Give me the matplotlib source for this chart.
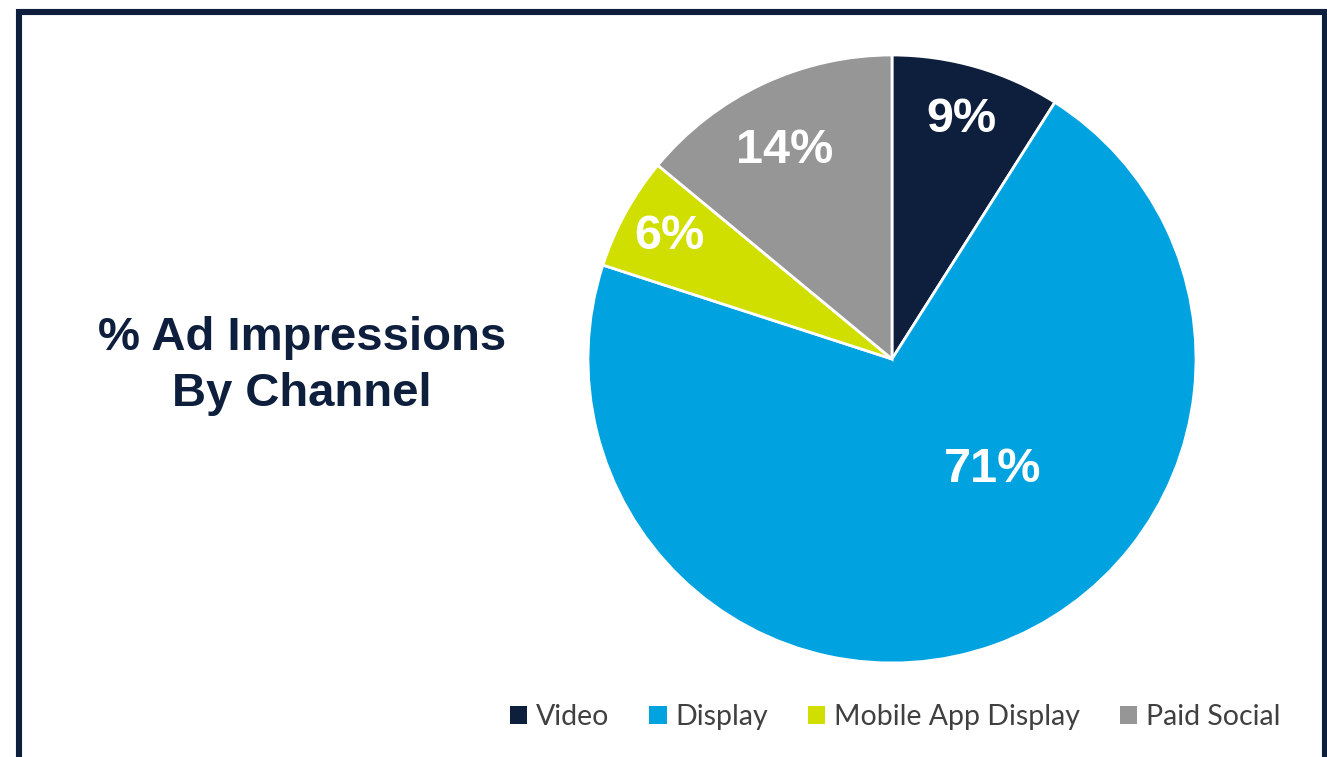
import numpy as np
import matplotlib.pyplot as plt
from matplotlib.patches import Patch, Rectangle

channels = ["Video", "Display", "Mobile App Display", "Paid Social"]
shares = [9, 71, 6, 14]
colors = ["#0e1f3d", "#00a3e0", "#d0de00", "#969696"]

# where each percentage sits: fraction of radius, and a turn away from the wedge middle (deg)
label_r = [0.82, 0.49, 0.835, 0.77]
label_turn = [0, 22.5, 0, 2.0]

NAVY = "#0e1f3d"
W, H = 1327, 757

fig = plt.figure(figsize=(W / 100, H / 100), dpi=100)
fig.patch.set_facecolor("white")

# outer frame, bottom edge runs off the page
fig.patches.append(Rectangle((19 / W, -2 / H), (1324.5 - 19) / W, (745 + 2) / H,
                             transform=fig.transFigure, fill=False,
                             edgecolor=NAVY, linewidth=4.4, zorder=0))

cx, cy, rad = 892, 359, 304
ax = fig.add_axes([(cx - rad) / W, (H - cy - rad) / H, 2 * rad / W, 2 * rad / H])
wedges, _ = ax.pie(shares, colors=colors, startangle=90, counterclock=False,
                   wedgeprops=dict(edgecolor="white", linewidth=2))
ax.set_xlim(-1, 1)
ax.set_ylim(-1, 1)
ax.axis("off")

for w, v, r, turn in zip(wedges, shares, label_r, label_turn):
    mid = np.deg2rad((w.theta1 + w.theta2) / 2 + turn)
    ax.text(r * np.cos(mid), r * np.sin(mid), f"{v}%", ha="center", va="center",
            color="white", fontsize=35, fontweight="bold",
            family="Liberation Sans")

fig.text(302 / W, 1 - 366 / H, "% Ad Impressions\nBy Channel", ha="center", va="center",
         color=NAVY, fontsize=34, fontweight="bold", family="Liberation Sans",
         linespacing=1.36)

handles = [Patch(facecolor=c, edgecolor="none") for c in colors]
leg = fig.legend(handles, channels, loc="center", bbox_to_anchor=(895 / W, 1 - 717 / H),
                 ncol=4, frameon=False, handlelength=0.62, handleheight=0.62,
                 handletextpad=0.3, columnspacing=1.4,
                 prop=dict(family="Lato", size=20.5))
for t in leg.get_texts():
    t.set_color("#404040")

fig.savefig("out.png", dpi=100, facecolor="white")
